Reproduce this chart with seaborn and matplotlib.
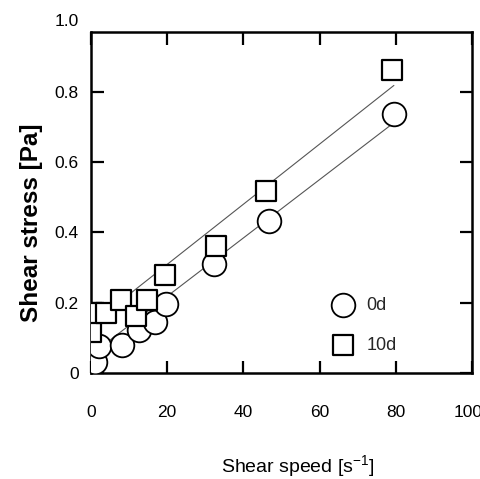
import matplotlib
matplotlib.use("Agg")
import matplotlib.pyplot as plt
import matplotlib.transforms as mtransforms
import seaborn as sns
import pandas as pd

# ---- data ----
speed_0d = [1.05, 2.1, 8.2, 12.6, 16.8, 19.7, 32.4, 46.6, 79.5]
stress_0d = [0.031, 0.078, 0.080, 0.123, 0.146, 0.195, 0.309, 0.431, 0.737]

speed_10d = [0.0, 0.3, 4.0, 7.9, 11.8, 14.7, 19.5, 32.9, 46.0, 79.0]
stress_10d = [0.118, 0.172, 0.170, 0.209, 0.163, 0.209, 0.280, 0.360, 0.517, 0.863]

# fitted straight lines (end points)
fit_x_0d = [1.3, 79.5]
fit_y_0d = [0.063, 0.712]
fit_x_10d = [2.0, 79.5]
fit_y_10d = [0.155, 0.818]

labels = ["0d", "10d"]
xticks = [0, 20, 40, 60, 80, 100]
xtick_labels = ["0", "20", "40", "60", "80", "100"]
yticks = [0, 0.2, 0.4, 0.6, 0.8]
ytick_labels = ["0", "0.2", "0.4", "0.6", "0.8"]
ytop_label = "1.0"
xlabel = "Shear speed [s$^{-1}$]"
ylabel = "Shear stress [Pa]"

sns.set_theme(style="white")
fam = ["Liberation Sans", "DejaVu Sans"]
plt.rcParams["font.family"] = fam
plt.rcParams["mathtext.default"] = "regular"

fig = plt.figure(figsize=(4.81, 4.79), dpi=100)
ax = fig.add_axes([91 / 481, 1 - 373 / 479, 381 / 481, 341 / 479])

df0 = pd.DataFrame({"x": speed_0d, "y": stress_0d})
df10 = pd.DataFrame({"x": speed_10d, "y": stress_10d})
dl0 = pd.DataFrame({"x": fit_x_0d, "y": fit_y_0d})
dl10 = pd.DataFrame({"x": fit_x_10d, "y": fit_y_10d})

sns.lineplot(data=dl0, x="x", y="y", ax=ax, color="#555555", lw=0.8, zorder=1)
sns.lineplot(data=dl10, x="x", y="y", ax=ax, color="#555555", lw=0.8, zorder=1)

sns.scatterplot(data=df0, x="x", y="y", ax=ax, marker="o", s=290,
                facecolor="white", edgecolor="black", linewidth=1.3,
                zorder=3, label=labels[0])
sns.scatterplot(data=df10, x="x", y="y", ax=ax, marker="s", s=190,
                facecolor="white", edgecolor="black", linewidth=1.6,
                zorder=4, label=labels[1])

ax.set_xlim(0, 100)
ax.set_ylim(0, 0.97)
ax.set_xticks(xticks)
ax.set_xticklabels(xtick_labels)
ax.set_yticks(yticks)
ax.set_yticklabels(ytick_labels)

for sp in ax.spines.values():
    sp.set_color("black")
    sp.set_linewidth(1.8)
    sp.set_visible(True)

ax.tick_params(axis="both", which="both", direction="in", length=9, width=1.6,
               color="black", top=True, right=True, bottom=True, left=True,
               labelsize=12.5, labelcolor="black")
ax.tick_params(axis="x", pad=23)
ax.tick_params(axis="y", pad=9)

trans = mtransforms.blended_transform_factory(ax.transAxes, ax.transData)
ax.text(-12 / 381, 1.0, ytop_label, transform=trans, ha="right", va="center",
        fontsize=12.5, color="black", clip_on=False)

ax.set_xlabel(xlabel, fontsize=14, color="black")
ax.xaxis.set_label_coords(0.543, -0.235)
ax.set_ylabel(ylabel, fontsize=17.5, color="black", fontweight="bold")
ax.yaxis.set_label_coords(-0.125, 0.44)

leg = ax.legend(loc="center left", bbox_to_anchor=(0.605, 0.14), frameon=False,
                fontsize=13, labelspacing=1.25, handletextpad=0.5,
                borderaxespad=0, handlelength=1.6)

fig.canvas.draw()
last = ax.get_xticklabels()[-1]
last.set_transform(last.get_transform() +
                   mtransforms.ScaledTranslation(-3 / 72, 0, fig.dpi_scale_trans))

fig.savefig("out.png", dpi=100, facecolor="white")
